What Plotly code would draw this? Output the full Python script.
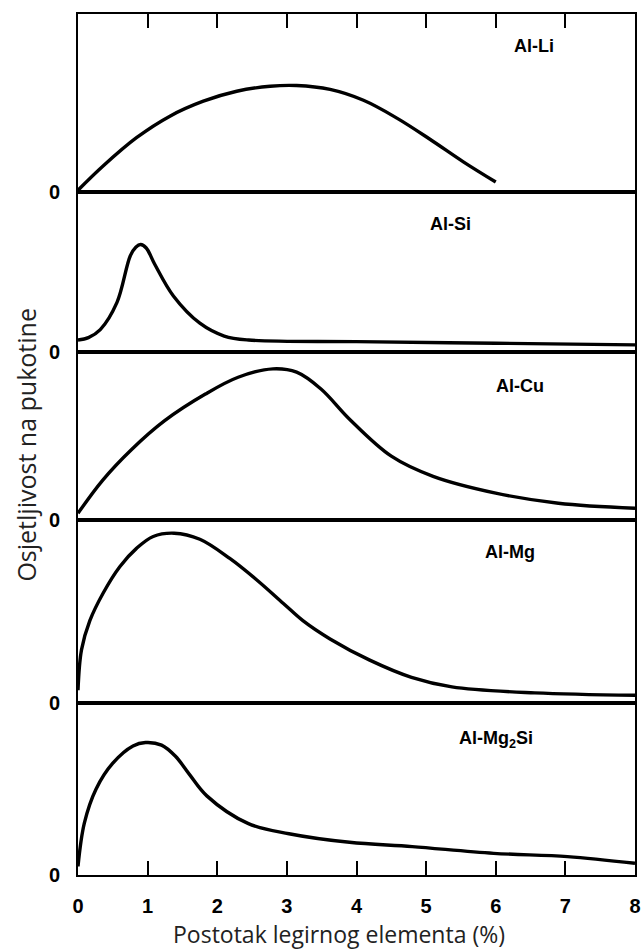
import plotly.graph_objects as go

# ---- data (fractions of each panel's height) ----
li_x = [0, 0.36, 0.84, 1.32, 1.80, 2.28, 2.76, 3.14, 3.62, 4.10, 4.58, 5.06, 5.54, 6.0]
li_y = [0.01, 0.146, 0.305, 0.426, 0.51, 0.566, 0.594, 0.598, 0.576, 0.515, 0.415, 0.295, 0.168, 0.056]

si_x = [0, 0.15, 0.32, 0.56, 0.75, 0.83, 0.9, 0.98, 1.1, 1.37, 1.75, 2.1, 2.45, 4, 6, 8]
si_y = [0.075, 0.09, 0.14, 0.31, 0.6, 0.655, 0.672, 0.65, 0.55, 0.35, 0.18, 0.1, 0.075, 0.065, 0.055, 0.045]

cu_x = [0, 0.35, 0.77, 1.24, 1.83, 2.3, 2.8, 3.14, 3.49, 3.9, 4.5, 5.1, 6.0, 6.9, 8.0]
cu_y = [0.04, 0.235, 0.42, 0.59, 0.75, 0.85, 0.9, 0.88, 0.78, 0.6, 0.38, 0.26, 0.16, 0.1, 0.07]

mg_x = [0, 0.05, 0.17, 0.36, 0.6, 0.84, 1.08, 1.38, 1.75, 2.18, 2.56, 2.95, 3.23, 3.62, 4.19, 4.79, 5.37, 6.56, 8]
mg_y = [0.07, 0.29, 0.45, 0.6, 0.745, 0.845, 0.91, 0.928, 0.895, 0.79, 0.675, 0.544, 0.45, 0.35, 0.234, 0.14, 0.088, 0.055, 0.042]

mg2si_x = [0, 0.09, 0.26, 0.5, 0.79, 0.97, 1.2, 1.4, 1.6, 1.85, 2.44, 3.03, 3.9, 4.8, 5.97, 7.03, 8]
mg2si_y = [0.05, 0.3, 0.5, 0.65, 0.75, 0.77, 0.755, 0.69, 0.585, 0.46, 0.3, 0.24, 0.19, 0.165, 0.126, 0.107, 0.068]

labels = ["Al-Mg<sub>2</sub>Si", "Al-Mg", "Al-Cu", "Al-Si", "Al-Li"]
label_x = [6.0, 6.2, 6.35, 5.35, 6.55]
label_y = [0.785, 0.825, 0.80, 0.80, 0.82]

x_tick_vals = [0, 1, 2, 3, 4, 5, 6, 7, 8]
x_tick_text = ["0", "1", "2", "3", "4", "5", "6", "7", "8"]

x_title = "Postotak legirnog elementa (%)"
y_title = "Osjetljivost na pukotine"

# panels listed bottom to top
series = [(mg2si_x, mg2si_y), (mg_x, mg_y), (cu_x, cu_y), (si_x, si_y), (li_x, li_y)]
domains = [[0, 0.1998], [0.1998, 0.4123], [0.4123, 0.6074], [0.6074, 0.7933], [0.7933, 1.0]]

bold = dict(family="Liberation Sans", size=20, color="black", weight="bold")

fig = go.Figure()
layout = {}
n = len(series)
for i, (xs, ys) in enumerate(series):
    k = i + 1
    sx = "" if k == 1 else str(k)
    fig.add_trace(go.Scatter(x=xs, y=ys, mode="lines",
                             line=dict(color="black", width=3.4, shape="spline", smoothing=1.0),
                             xaxis="x" + sx, yaxis="y" + sx, showlegend=False, hoverinfo="skip"))
    xa = dict(domain=[0, 1], range=[0, 8], anchor="y" + sx, showline=True, mirror=True,
              linecolor="black", linewidth=1.8, showgrid=False, zeroline=False, automargin=False)
    if k == 1:
        xa.update(ticks="inside", ticklen=14, tickwidth=1.8, tickcolor="black",
                  tickvals=x_tick_vals, ticktext=x_tick_text, ticklabelstandoff=12,
                  tickfont=bold)
    elif k == n:
        xa.update(side="top", ticks="inside", ticklen=14, tickwidth=1.8, tickcolor="black",
                  tickvals=x_tick_vals[1:-1], showticklabels=False)
    else:
        xa.update(showticklabels=False, ticks="")
    if k > 1:
        xa["matches"] = "x"
    ya = dict(domain=domains[i], range=[0, 1], anchor="x" + sx, showline=True, mirror=True,
              linecolor="black", linewidth=1.8, showgrid=False, zeroline=False, automargin=False,
              tickvals=[0], ticktext=["0"], ticks="", ticklabelstandoff=12,
              tickfont=bold)
    layout["xaxis" + sx] = xa
    layout["yaxis" + sx] = ya
    fig.add_annotation(x=label_x[i], y=label_y[i], xref="x" + sx, yref="y" + sx,
                       text=labels[i], showarrow=False,
                       font=dict(family="Liberation Sans", size=18, color="black", weight="bold"))

fig.add_annotation(x=0.468, y=-0.0685, xref="paper", yref="paper", text=x_title, showarrow=False,
                   xanchor="center", yanchor="middle",
                   font=dict(family="Open Sans", size=23, color="#222"))
fig.add_annotation(x=-0.095, y=0.5, xref="paper", yref="paper", text=y_title, showarrow=False,
                   textangle=-90, xanchor="center", yanchor="middle",
                   font=dict(family="Open Sans", size=25, color="#222"))

fig.update_layout(width=643, height=949, margin=dict(l=78, r=8, t=14, b=74),
                  plot_bgcolor="white", paper_bgcolor="white", **layout)
fig.write_html("out.html", config={"displayModeBar": False},
               post_script="document.body.style.margin='0';document.body.style.overflow='hidden';")
